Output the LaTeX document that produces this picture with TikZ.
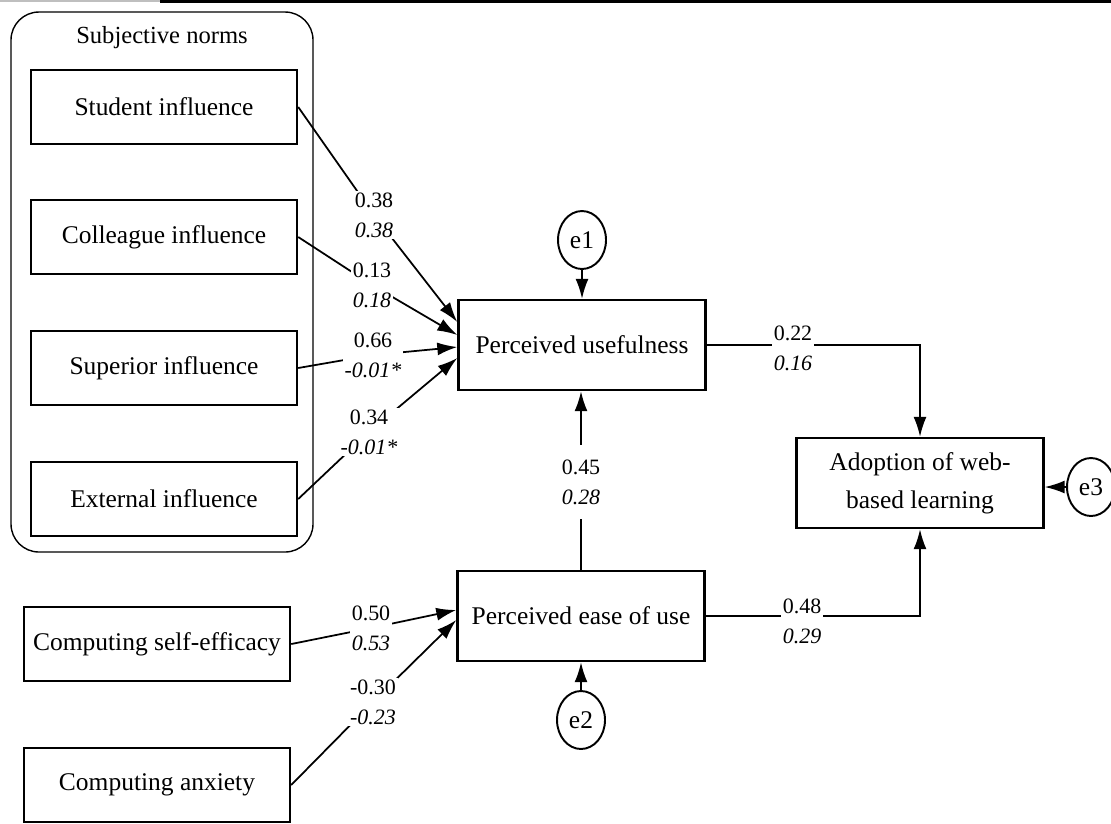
\documentclass[tikz,border=0pt]{standalone}
\usepackage{fontspec}
\setmainfont{Liberation Serif}
\usetikzlibrary{arrows.meta,shapes.geometric,calc,backgrounds}

\begin{document}
\begin{tikzpicture}[x=0.02cm,y=-0.02cm,
  var/.style={draw,line width=1.4pt,minimum width=5.32cm,minimum height=1.48cm,font=\fontsize{14.5}{17}\selectfont},
  mid/.style={draw,line width=1.4pt,minimum width=4.94cm,minimum height=1.8cm,align=center,font=\fontsize{14.5}{21.5}\selectfont},
  err/.style={draw,ellipse,line width=1.1pt,minimum width=0.96cm,minimum height=1.16cm,inner sep=0pt,font=\fontsize{14.5}{17}\selectfont},
  coef/.style={fill=white,align=center,inner xsep=1pt,inner ysep=1pt,font=\fontsize{12.5}{17}\selectfont},
  eff/.style={line width=1pt,-{Latex[length=0.4cm,width=0.26cm]}}]
\useasboundingbox (0,0) rectangle (1111,823);
% scan edge
\draw[gray!50,line width=0.6pt] (0,1) -- (160,1);
\draw[line width=1.6pt] (160,1.5) -- (1111,1.5);

% subjective norms
\draw[line width=0.8pt,rounded corners=0.56cm] (11,12) rectangle (313,552);
\node[font=\fontsize{14}{16}\selectfont] (sn) at (162,38) {Subjective norms};
\foreach \nm/\txt/\y in {stu/Student influence/107,col/Colleague influence/237,sup/Superior influence/368,ext/External influence/499}
  \node[var] (\nm) at (164,\y) {\txt};

\node[var] (cse) at (157,644) {Computing self-efficacy};
\node[var] (ca) at (157,785) {Computing anxiety};

\node[mid] (pu) at (582,345) {Perceived usefulness};
\node[mid] (peou) at (581,616) {Perceived ease of use};
\node[mid] (adopt) at (920,483) {Adoption of web-\\based learning};

\node[err] (e1) at (582,240) {e1};
\node[err] (e2) at (581,720) {e2};
\node[err] (e3) at (1091,487) {e3};

% coefficients
\node[coef] (c1) at (374,215) {0.38\\\textit{0.38}};
\node[coef] (c2) at (372,285) {0.13\\\textit{0.18}};
\node[coef] (c3) at (373,355) {0.66\\\textit{-0.01*}};
\node[coef] (c4) at (369,432) {0.34\\\textit{-0.01*}};
\node[coef] (c5) at (371,628) {0.50\\\textit{0.53}};
\node[coef] (c6) at (373,702) {-0.30\\\textit{-0.23}};
\node[coef,inner ysep=0.3cm] (c7) at (581,482) {0.45\\\textit{0.28}};
\node[coef] (c8) at (793,348) {0.22\\\textit{0.16}};
\node[coef] (c9) at (802,621) {0.48\\\textit{0.29}};
\coordinate (k1) at (pu.east -| adopt.north);
\coordinate (k2) at (peou.east -| adopt.south);

\begin{scope}[on background layer]
\draw[eff] (stu.east) -- (c1.center) -- ($(pu.west)+(0,-23)$);
\draw[eff] (col.east) -- (c2.center) -- ($(pu.west)+(0,-10)$);
\draw[eff] (sup.east) -- (c3.center) -- ($(pu.west)+(0,2)$);
\draw[eff] (ext.east) -- (c4.center) -- ($(pu.west)+(0,13)$);
\draw[eff] (cse.east) -- (c5.center) -- ($(peou.west)+(0,-6)$);
\draw[eff] (ca.east) -- (c6.center) -- ($(peou.west)+(0,4)$);
\draw[eff] (peou.north) -- (peou.north |- pu.south);
\draw[eff] (pu.east) -- (k1) -- (adopt.north);
\draw[eff] (peou.east) -- (k2) -- (adopt.south);
\draw[eff] (e1) -- (pu);
\draw[eff] (e2) -- (peou);
\draw[eff] (e3.west) -- (e3.west -| adopt.east);
\end{scope}
\end{tikzpicture}
\end{document}
